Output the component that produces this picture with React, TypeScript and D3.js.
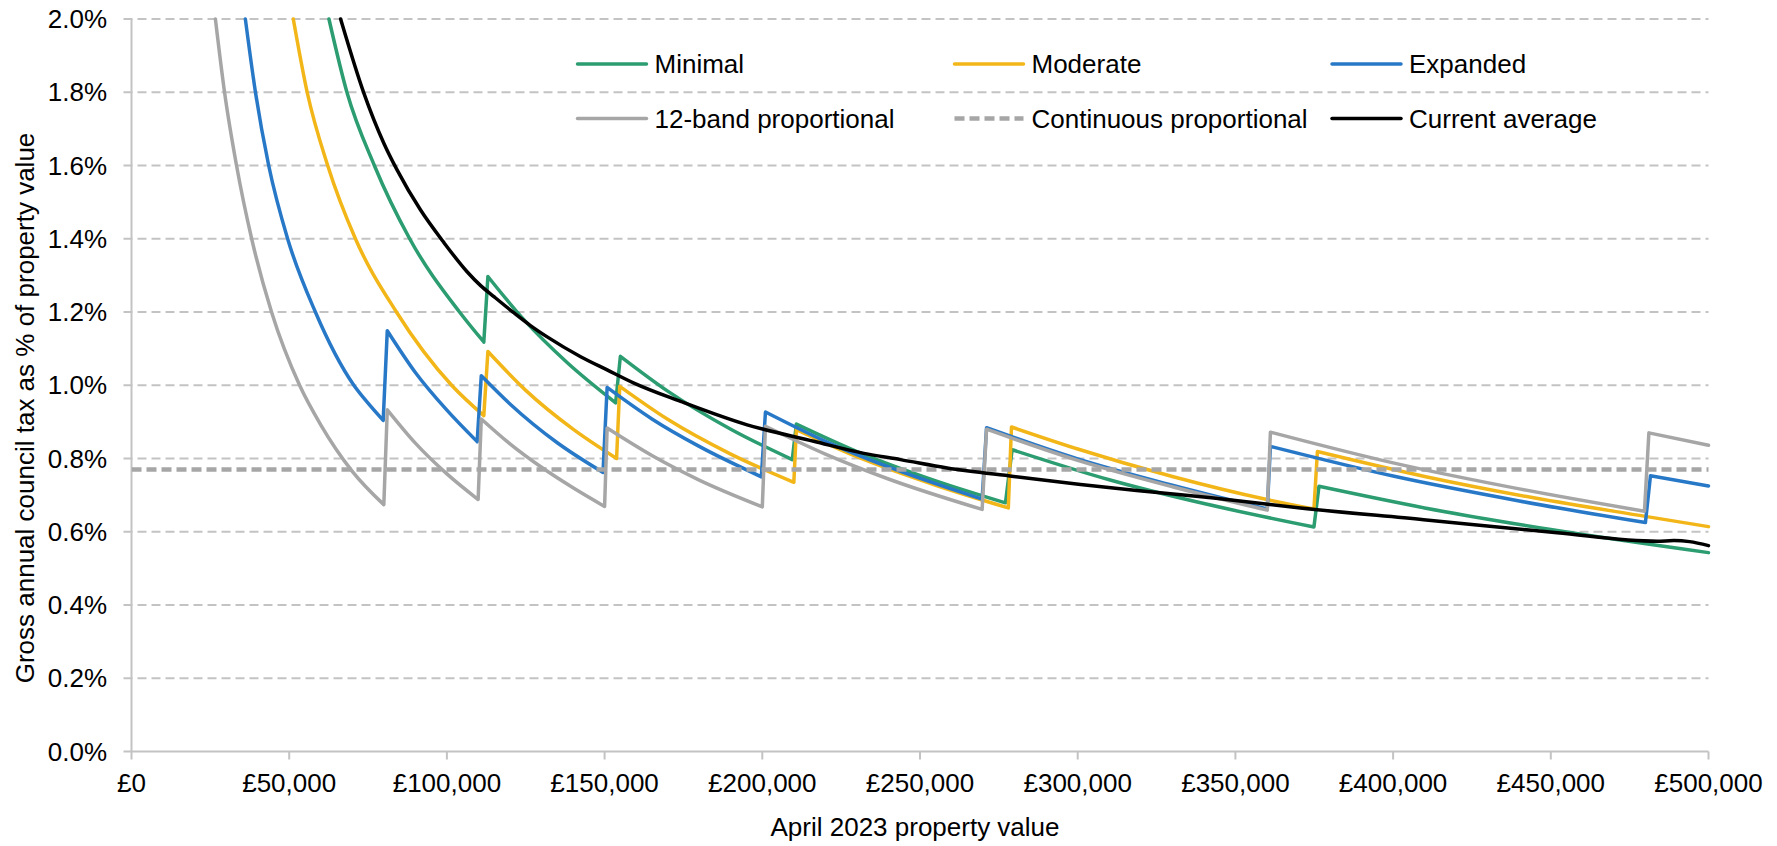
import React from "react";
import * as d3 from "d3";

type Pt = [number, number];

// ---- Data (property value in £, council tax as % of value) ----
const xTickValues = [0, 50000, 100000, 150000, 200000, 250000, 300000, 350000, 400000, 450000, 500000];
const yTickValues = [0, 0.2, 0.4, 0.6, 0.8, 1.0, 1.2, 1.4, 1.6, 1.8, 2.0];

const minimalSegments: Pt[][] = [
  [[62600, 2.0], [68300, 1.8], [77000, 1.6], [88200, 1.4], [104000, 1.2], [111700, 1.118]],
  [[113000, 1.297], [124400, 1.179], [138100, 1.062], [153500, 0.952]],
  [[155000, 1.079], [170000, 0.984], [190000, 0.88], [209500, 0.797]],
  [[210800, 0.894], [230000, 0.819], [255000, 0.739], [277100, 0.679]],
  [[279200, 0.824], [310000, 0.742], [340000, 0.677], [374900, 0.613]],
  [[376500, 0.724], [410000, 0.665], [450000, 0.606], [500000, 0.543]],
];

const moderateSegments: Pt[][] = [
  [[51300, 2.0], [55700, 1.8], [62200, 1.6], [71000, 1.4], [84000, 1.2], [101500, 1.0], [111700, 0.917]],
  [[113000, 1.092], [125000, 0.986], [140000, 0.88], [153800, 0.8]],
  [[154800, 0.997], [170000, 0.907], [190000, 0.812], [210000, 0.735]],
  [[210800, 0.879], [230000, 0.805], [255000, 0.727], [278000, 0.665]],
  [[279000, 0.886], [300000, 0.826], [330000, 0.751], [360000, 0.688], [374900, 0.662]],
  [[376000, 0.819], [410000, 0.751], [445000, 0.692], [480000, 0.642], [500000, 0.614]],
];

const expandedSegments: Pt[][] = [
  [[36100, 2.0], [39300, 1.8], [43500, 1.6], [49500, 1.4], [58300, 1.2], [70500, 1.0], [75000, 0.951], [79800, 0.904]],
  [[81100, 1.149], [90000, 1.035], [100000, 0.932], [109600, 0.846]],
  [[110900, 1.026], [120000, 0.949], [135000, 0.843], [149500, 0.762]],
  [[150800, 0.994], [165000, 0.908], [180000, 0.833], [199700, 0.75]],
  [[201000, 0.927], [220000, 0.847], [240000, 0.777], [269700, 0.689]],
  [[271100, 0.884], [300000, 0.799], [330000, 0.727], [360100, 0.662]],
  [[361100, 0.833], [400000, 0.752], [440000, 0.684], [480000, 0.625]],
  [[481600, 0.753], [500000, 0.725]],
];

const twelveBandSegments: Pt[][] = [
  [[26600, 2.0], [29500, 1.8], [33300, 1.6], [38100, 1.4], [44400, 1.2], [53300, 1.0], [60000, 0.892], [70000, 0.765], [80000, 0.674]],
  [[81100, 0.933], [90000, 0.842], [100000, 0.758], [109900, 0.688]],
  [[110900, 0.908], [120000, 0.84], [130000, 0.776], [140000, 0.72], [150000, 0.669]],
  [[150800, 0.883], [165000, 0.808], [180000, 0.741], [200000, 0.668]],
  [[201000, 0.888], [220000, 0.812], [240000, 0.744], [269700, 0.661]],
  [[271100, 0.88], [300000, 0.795], [330000, 0.723], [360100, 0.659]],
  [[361100, 0.872], [400000, 0.788], [440000, 0.717], [479700, 0.656]],
  [[481100, 0.87], [500000, 0.836]],
];

const continuousProportional: Pt[] = [[0, 0.77], [500000, 0.77]];

const currentAverage: Pt[] = [
  [66300, 2.0], [73700, 1.797], [80000, 1.661], [84200, 1.588], [91600, 1.479], [99000, 1.39],
  [106400, 1.31], [110700, 1.272], [114900, 1.242], [121200, 1.198], [126500, 1.163], [131800, 1.132],
  [142400, 1.078], [150800, 1.042], [159300, 1.006], [174100, 0.956], [195200, 0.892], [216300, 0.847],
  [232200, 0.814], [243800, 0.797], [258600, 0.774], [279700, 0.751], [300900, 0.729], [322000, 0.71],
  [343100, 0.692], [370600, 0.665], [409700, 0.633], [452000, 0.597], [483700, 0.574], [489000, 0.576],
  [494000, 0.573], [500000, 0.562],
];

const legendLabels = ["Minimal", "Moderate", "Expanded", "12-band proportional", "Continuous proportional", "Current average"];

// ---- Styling / layout ----
const W = 1777;
const H = 846;
const PL = 131.5, PR = 1708.5, PT = 19, PB = 751.5;
const FONT = "'Liberation Sans', Arial, sans-serif";
const FS = 26;
const GREEN = "#2c9c71";
const YELLOW = "#f2b618";
const BLUE = "#2878c8";
const GREY = "#a6a6a6";
const GRID = "#c3c3c3";

export default function App() {
  const x = d3.scaleLinear().domain([0, 500000]).range([PL, PR]);
  const y = d3.scaleLinear().domain([0, 2]).range([PB, PT]);

  const segLine = d3
    .line<Pt>()
    .x((d) => x(d[0]))
    .y((d) => y(d[1]))
    .curve(d3.curveMonotoneX);
  const straight = d3
    .line<Pt>()
    .x((d) => x(d[0]))
    .y((d) => y(d[1]));

  const sawPath = (segs: Pt[][]) =>
    segs
      .map((s, i) => {
        const d = segLine(s) || "";
        return i === 0 ? d : "L" + d.slice(1);
      })
      .join("");

  const fmtMoney = (v: number) => "£" + d3.format(",")(v);
  const fmtPct = (v: number) => v.toFixed(1) + "%";

  const series = [
    { d: sawPath(minimalSegments), color: GREEN, dash: undefined as string | undefined, w: 3.5 },
    { d: sawPath(moderateSegments), color: YELLOW, dash: undefined, w: 3.5 },
    { d: sawPath(expandedSegments), color: BLUE, dash: undefined, w: 3.5 },
    { d: sawPath(twelveBandSegments), color: GREY, dash: undefined, w: 3.5 },
    { d: straight(continuousProportional) || "", color: GREY, dash: "10,5", w: 4.5 },
    { d: segLine(currentAverage) || "", color: "#000000", dash: undefined, w: 3.5 },
  ];

  const legendCols = [577.5, 954.5, 1332];
  const legendRows = [64, 118.5];

  return (
    <svg
      width={W}
      height={H}
      style={{ position: "absolute", left: 0, top: 0, display: "block", background: "#fff" }}
      fontFamily={FONT}
    >
      <defs>
        <clipPath id="plotClip">
          <rect x={PL} y={0} width={PR - PL + 4} height={PB} />
        </clipPath>
      </defs>
      <rect x={0} y={0} width={W} height={H} fill="#fff" />

      {/* gridlines */}
      {yTickValues
        .filter((v) => v > 0)
        .map((v) => (
          <line
            key={"g" + v}
            x1={PL - 8}
            x2={PR}
            y1={y(v)}
            y2={y(v)}
            stroke={GRID}
            strokeWidth={2}
            strokeDasharray="9,5"
          />
        ))}

      {/* axes */}
      <line x1={PL} x2={PL} y1={PT} y2={PB} stroke={GRID} strokeWidth={2} />
      <line x1={PL - 8} x2={PR} y1={PB} y2={PB} stroke={GRID} strokeWidth={2} />
      {xTickValues.map((v) => (
        <line key={"xt" + v} x1={x(v)} x2={x(v)} y1={PB} y2={PB + 8} stroke={GRID} strokeWidth={2} />
      ))}

      {/* y tick labels */}
      {yTickValues.map((v) => (
        <text key={"yl" + v} x={107} y={y(v)} dy="0.35em" textAnchor="end" fontSize={FS} fill="#000">
          {fmtPct(v)}
        </text>
      ))}

      {/* x tick labels */}
      {xTickValues.map((v) => (
        <text key={"xl" + v} x={x(v)} y={792} textAnchor="middle" fontSize={FS} fill="#000">
          {fmtMoney(v)}
        </text>
      ))}

      {/* axis titles */}
      <text x={915} y={836} textAnchor="middle" fontSize={FS} fill="#000">
        April 2023 property value
      </text>
      <text transform="translate(34,408) rotate(-90)" textAnchor="middle" fontSize={FS} fill="#000">
        Gross annual council tax as % of property value
      </text>

      {/* series */}
      <g clipPath="url(#plotClip)">
        {series.map((s, i) => (
          <path
            key={"s" + i}
            d={s.d}
            fill="none"
            stroke={s.color}
            strokeWidth={s.w}
            strokeDasharray={s.dash}
            strokeLinejoin="round"
            strokeLinecap={s.dash ? "butt" : "round"}
          />
        ))}
      </g>

      {/* legend */}
      {legendLabels.map((label, i) => {
        const col = legendCols[i % 3];
        const row = legendRows[Math.floor(i / 3)];
        const s = series[i];
        return (
          <g key={"lg" + i}>
            <line
              x1={col}
              x2={col + 69}
              y1={row}
              y2={row}
              stroke={s.color}
              strokeWidth={s.w}
              strokeDasharray={s.dash}
              strokeLinecap={s.dash ? "butt" : "round"}
            />
            <text x={col + 77} y={row} dy="0.35em" fontSize={FS} fill="#000">
              {label}
            </text>
          </g>
        );
      })}
    </svg>
  );
}
